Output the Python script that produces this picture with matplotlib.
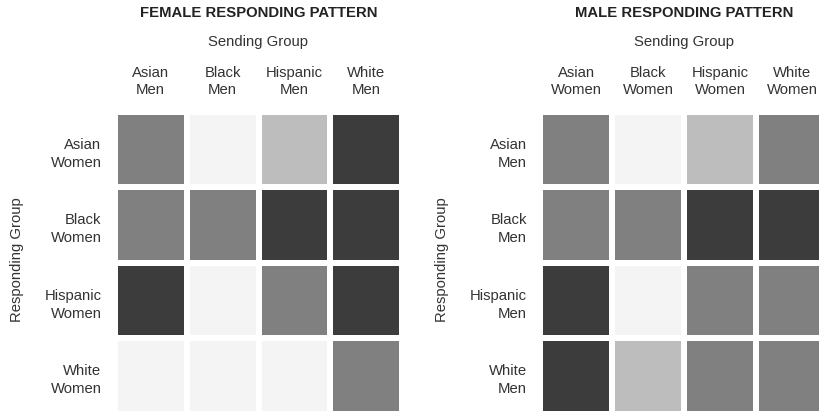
import matplotlib.pyplot as plt
import numpy as np
from matplotlib.colors import ListedColormap, BoundaryNorm

plt.rcParams['font.family'] = ['Liberation Sans', 'DejaVu Sans']

# shade levels: 0 = lightest ... 3 = darkest
shades = ['#f4f4f4', '#bdbdbd', '#808080', '#3c3c3c']

female_rows = ['Asian\nWomen', 'Black\nWomen', 'Hispanic\nWomen', 'White\nWomen']
female_cols = ['Asian\nMen', 'Black\nMen', 'Hispanic\nMen', 'White\nMen']
female_levels = [
    [2, 0, 1, 3],
    [2, 2, 3, 3],
    [3, 0, 2, 3],
    [0, 0, 0, 2],
]

male_rows = ['Asian\nMen', 'Black\nMen', 'Hispanic\nMen', 'White\nMen']
male_cols = ['Asian\nWomen', 'Black\nWomen', 'Hispanic\nWomen', 'White\nWomen']
male_levels = [
    [2, 0, 1, 2],
    [2, 2, 3, 3],
    [3, 0, 2, 2],
    [3, 1, 2, 2],
]

W, H = 820, 414
fig = plt.figure(figsize=(W / 100, H / 100), dpi=100)

cmap = ListedColormap(shades)
norm = BoundaryNorm([-0.5, 0.5, 1.5, 2.5, 3.5], cmap.N)
txt = '#333333'


def panel(left_px, title, rows, cols, levels):
    ax = fig.add_axes([left_px / W, 1 - 414.7 / H, 287.6 / W, 302 / H])
    ax.pcolormesh(np.array(levels), cmap=cmap, norm=norm,
                  edgecolors='white', linewidth=4.3)
    ax.set_xlim(0, 4)
    ax.set_ylim(4, 0)
    ax.xaxis.tick_top()
    ax.set_xticks(np.arange(len(cols)) + 0.5)
    ax.set_xticklabels(cols, fontsize=10.7, color=txt, linespacing=1.35)
    ax.set_yticks(np.arange(len(rows)) + 0.5)
    ax.set_yticklabels(rows, fontsize=10.7, color=txt, ha='right', linespacing=1.35)
    ax.tick_params(length=0, pad=11)
    ax.tick_params(axis='y', pad=9.5)
    for s in ax.spines.values():
        s.set_visible(False)
    cx = left_px + 143.8
    fig.text(cx / W, 1 - 13 / H, title, fontsize=10.7, fontweight='bold',
             color='#222222', ha='center', va='center')
    fig.text(cx / W, 1 - 42 / H, 'Sending Group', fontsize=10.7,
             color=txt, ha='center', va='center')
    return ax


panel(114.7, 'FEMALE RESPONDING PATTERN', female_rows, female_cols, female_levels)
panel(540.3, 'MALE RESPONDING PATTERN', male_rows, male_cols, male_levels)

fig.text(17 / W, 1 - 260 / H, 'Responding Group', fontsize=10.7, color=txt,
         rotation=90, ha='center', va='center')
fig.text(442 / W, 1 - 260 / H, 'Responding Group', fontsize=10.7, color=txt,
         rotation=90, ha='center', va='center')

fig.savefig('out.png', dpi=100, facecolor='white')
